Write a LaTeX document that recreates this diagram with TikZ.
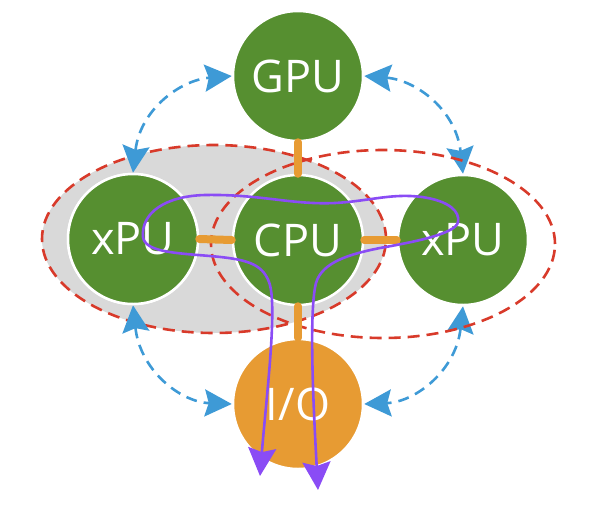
\documentclass[tikz,border=0pt]{standalone}
\usepackage{fontspec}
\setmainfont{Open Sans}
\usetikzlibrary{arrows.meta,shapes.geometric}
\definecolor{cgreen}{HTML}{568F30}
\definecolor{corange}{HTML}{E79B33}
\definecolor{cred}{HTML}{D83A2A}
\definecolor{cgray}{HTML}{D9D9D9}
\definecolor{cblue}{HTML}{3E9AD6}
\definecolor{cpurple}{HTML}{8A4CF5}
\tikzset{
  unit/.style={circle, minimum size=130pt, inner sep=0pt, draw=white, line width=2.5pt,
    fill=cgreen, text=white, font=\fontsize{45}{48}\selectfont},
  iounit/.style={unit, fill=corange},
  group/.style={ellipse, minimum width=344pt, minimum height=188pt, inner sep=0pt,
    draw=cred, line width=2.6pt, dash pattern=on 12pt off 7pt},
  link/.style={draw=cblue, line width=2.6pt, dash pattern=on 11pt off 7pt,
    {Stealth[length=27pt,width=27pt,inset=4pt,fill=cblue]}-{Stealth[length=27pt,width=27pt,inset=4pt,fill=cblue]}},
  bar/.style={draw=corange, line width=8pt, line cap=round},
  flow/.style={draw=cpurple, line width=2.6pt,
    {Stealth[length=28pt,width=28pt,inset=4pt,fill=cpurple]}-{Stealth[length=28pt,width=28pt,inset=4pt,fill=cpurple]}}
}
\begin{document}
\begin{tikzpicture}[x=1pt,y=-1pt]
\useasboundingbox (0,0) rectangle (597,504);
% left group (filled)
\node[group, fill=cgray] (grpL) at (214,239) {};
\path (298,76) coordinate (gpuC) (298,240) coordinate (cpuC) (133,239) coordinate (xpuLC)
      (463,240) coordinate (xpuRC) (298,404) coordinate (ioC);
\node[unit] (gpu) at (gpuC) {GPU};
\node[unit] (xpuL) at (xpuLC) {xPU};
\node[unit] (xpuR) at (xpuRC) {xPU};
\node[iounit] (io) at (ioC) {I/O};
% blue dashed double arrows
\draw[link] (xpuL.north) .. controls (140,110) and (180,80) .. (gpu.west);
\draw[link] (gpu.east) .. controls (416,80) and (456,110) .. (xpuR.north);
\draw[link] (xpuL.south) .. controls (140,370) and (180,402) .. (io.west);
\draw[link] (xpuR.south) .. controls (456,370) and (416,402) .. (io.east);
% right group (dashed outline only)
\node[group] (grpR) at (383,244) {};
% circles on top
\node[unit] at (gpuC) {GPU};
\node[unit] (cpu) at (cpuC) {CPU};
\node[unit] at (xpuLC) {xPU};
\node[unit] at (xpuRC) {xPU};
\node[iounit] at (ioC) {I/O};
% orange bars
\draw[bar] (gpu.south) -- (cpu.north);
\draw[bar] (xpuL.east) -- (cpu.west);
\draw[bar] (cpu.east) -- (xpuR.west);
\draw[bar] (cpu.south) -- (io.north);
% purple flow
\coordinate (fstart) at (260,476);
\coordinate (fend) at (318,490);
\draw[flow] (fstart) .. controls (266,400) and (278,305) .. (269,282)
  .. controls (262,263) and (245,259) .. (210,256)
  .. controls (175,253) and (145,252) .. (143,237)
  .. controls (141,213) and (165,196) .. (205,195)
  .. controls (260,194) and (292,205) .. (335,203)
  .. controls (370,201) and (392,193) .. (422,197)
  .. controls (450,201) and (460,212) .. (458,222)
  .. controls (456,233) and (420,241) .. (380,248)
  .. controls (350,254) and (322,262) .. (316,283)
  .. controls (309,310) and (313,400) .. (fend);
\end{tikzpicture}
\end{document}
